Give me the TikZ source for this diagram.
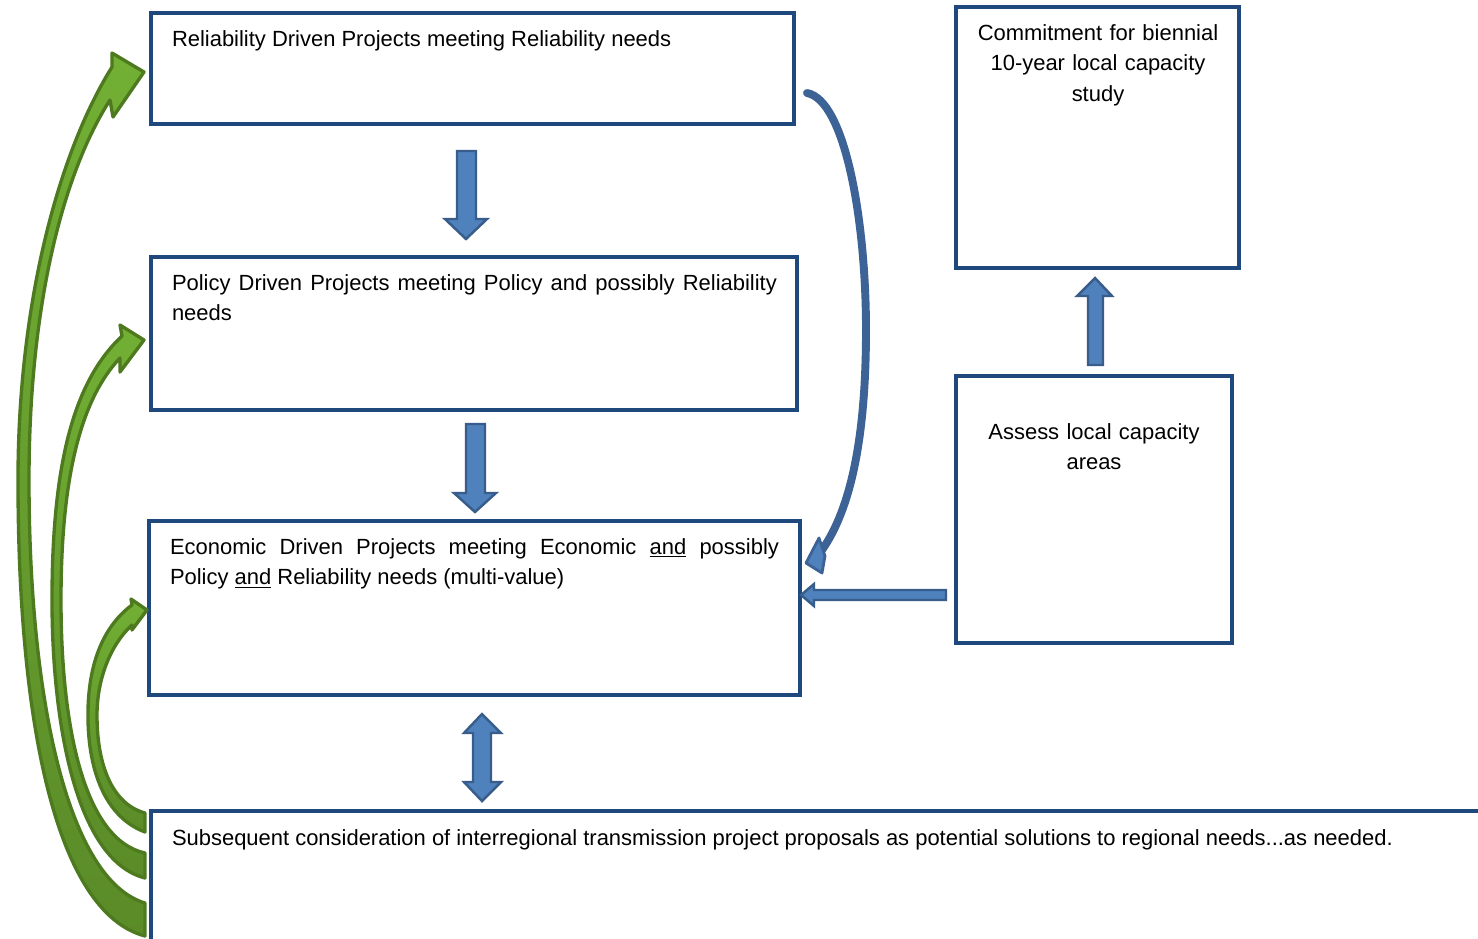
\documentclass[tikz,border=0pt]{standalone}
\usepackage{fontspec}
\setmainfont{Liberation Sans}
\definecolor{boxblue}{HTML}{1F497D}
\definecolor{arrfill}{HTML}{4F81BD}
\definecolor{arrline}{HTML}{385D8A}
\definecolor{curveblue}{HTML}{3D6295}
\definecolor{gline}{HTML}{4E7A1F}
\definecolor{gtop}{HTML}{72B034}
\definecolor{gbot}{HTML}{5A8B28}
\begin{document}
\begin{tikzpicture}[x=0.02cm,y=-0.02cm,
 box/.style={draw=boxblue, line width=2pt, inner sep=0pt, outer sep=0pt, anchor=north west},
 txt/.style={inner sep=0pt, outer sep=0pt, font=\fontsize{12.5pt}{17.6pt}\selectfont},
 blockarrow/.style={fill=arrfill, draw=arrline, line width=1.4pt, line join=miter},
 greenarrow/.style={draw=gline, line width=1.9pt, top color=gtop, bottom color=gbot, line join=round},
 curvearrow/.style={draw=curveblue, line width=4.5pt, line cap=round},
]
\clip (0,0) rectangle (1478,938);
\fill[white] (0,0) rectangle (1478,938);

% boxes
\node[box, minimum width=12.86cm, minimum height=2.22cm] (b1) at (151,13) {};
\node[box, minimum width=12.92cm, minimum height=3.06cm] (b2) at (151,257) {};
\node[box, minimum width=13.02cm, minimum height=3.48cm] (b3) at (149,521) {};
\node[box, minimum width=5.66cm, minimum height=5.22cm] (b4) at (956,7) {};
\node[box, minimum width=5.52cm, minimum height=5.34cm] (b5) at (956,376) {};
\node[box, minimum width=26.98cm, minimum height=2.98cm] (b6) at (151,811) {};

% texts
\node[txt, anchor=base west] (t1) at (172,46) {Reliability Driven Projects meeting Reliability needs};
\node[txt, anchor=base west, text width=12.1cm, align=justify] (t2) at (172,290)
 {Policy Driven Projects meeting Policy and possibly Reliability\linebreak needs};
\node[txt, anchor=base west, text width=12.18cm, align=justify] (t3) at (170,554)
 {Economic Driven Projects meeting Economic \underline{and} possibly\linebreak Policy \underline{and} Reliability needs (multi-value)};
\node[txt, anchor=base, text width=5.4cm, align=center] (t4) at (1098,40)
 {Commitment for biennial\\10-year local capacity\\study};
\node[txt, anchor=base, text width=5.2cm, align=center] (t5) at (1094,439)
 {Assess local capacity\\areas};
\node[txt, anchor=base west] (t6) at (172,845) {Subsequent consideration of interregional transmission project proposals as potential solutions to regional needs...as needed.};

% block arrows
\draw[blockarrow] (457,151) -- (476,151) -- (476,219) -- (487,219) -- (466,239) -- (445,219) -- (457,219) -- cycle;
\draw[blockarrow] (466,424) -- (485,424) -- (485,493) -- (496,493) -- (475,512) -- (454,493) -- (466,493) -- cycle;
\draw[blockarrow] (482,714) -- (501,733) -- (491,733) -- (491,782) -- (501,782) -- (482,801) -- (464,782) -- (473,782) -- (473,733) -- (464,733) -- cycle;
\draw[blockarrow] (1095,278) -- (1112,296) -- (1103,296) -- (1103,365) -- (1088,365) -- (1088,296) -- (1077,296) -- cycle;
\draw[blockarrow] (801,595) -- (814,584) -- (814,590) -- (946,590) -- (946,600) -- (814,600) -- (814,606) -- cycle;

% curved blue arrow
\coordinate (cs) at (807,93);
\coordinate (ce) at (822,550);
\draw[curvearrow] (cs) .. controls (845,100) and (866,220) .. (866,330) .. controls (866,440) and (850,510) .. (ce);
\draw[fill=arrfill, draw=curveblue, line width=1.6pt, line join=round] (819,538) -- (806,563) -- (822,573) -- (825,556) -- cycle;

% green curved arrows
\draw[greenarrow] (145,936) .. controls (55,912) and (18,720) .. (18,480) .. controls (18,300) and (60,150) .. (112,67)
 -- (112,53) -- (144,72) -- (113,117) -- (110,100)
 .. controls (65,170) and (29,300) .. (29,480) .. controls (29,700) and (68,880) .. (145,903) -- cycle;
\draw[greenarrow] (145,878) .. controls (75,860) and (52,720) .. (52,600) .. controls (52,460) and (75,380) .. (122,336)
 -- (120,325) -- (144,340) -- (120,372) -- (120,358)
 .. controls (80,400) and (61,480) .. (61,600) .. controls (61,730) and (85,840) .. (145,853) -- cycle;
\draw[greenarrow] (145,832) .. controls (100,815) and (87,760) .. (88,710) .. controls (89,660) and (105,625) .. (132,605)
 -- (131,599) -- (147,610) -- (132,630) -- (132,625)
 .. controls (110,645) and (97,680) .. (97,715) .. controls (97,770) and (115,805) .. (145,813) -- cycle;
\end{tikzpicture}
\end{document}
